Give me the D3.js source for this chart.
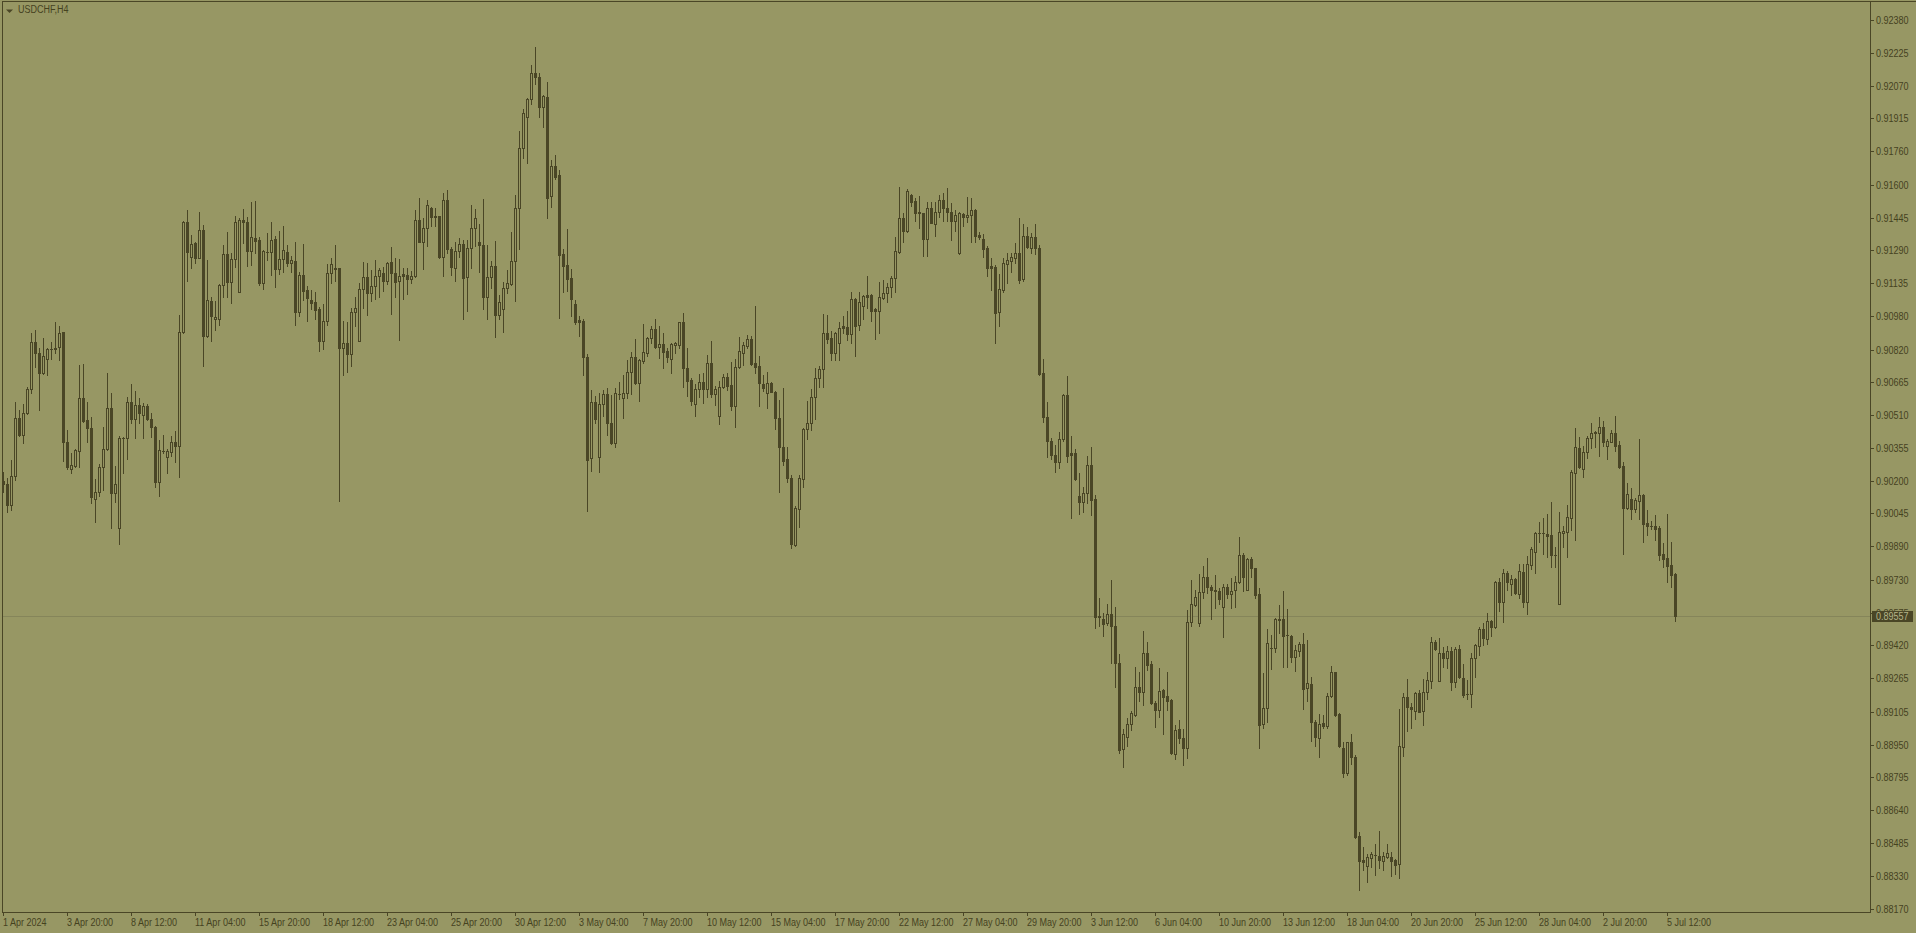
<!DOCTYPE html>
<html>
<head>
<meta charset="utf-8">
<script src="https://cdn.jsdelivr.net/npm/d3@7/dist/d3.min.js"></script>
<style>
  html, body { margin: 0; padding: 0; background: #979764; overflow: hidden; }
  #chart text { font-family: "Liberation Sans", Arial, sans-serif; font-size: 11px; fill: #45421f; }
</style>
</head>
<body>
<div id="chart"></div>
<script>
// USDCHF H4, 1 Apr 04:00 -> 5 Jul 20:00 (419 bars)
const symbol = 'USDCHF,H4';
const lastPrice = 0.89557;

const opens = [
.90200,.90186,.90086,.90224,.90494,.90418,.90521,.90633,.90854,.90802,
.90711,.90774,.90821,.90824,.90834,.90902,.90384,.90257,.90270,.90341,
.90589,.90486,.90451,.90111,.90144,.90262,.90348,.90542,.90139,.89974,
.90400,.90400,.90570,.90490,.90560,.90510,.90554,.90490,.90452,.90195,
.90341,.90313,.90337,.90384,.90365,.90902,.91426,.91260,.91323,.91255,
.91386,.90886,.91050,.90963,.90965,.91126,.91271,.91142,.91247,.91091,
.91434,.91423,.91288,.91347,.91339,.91137,.91284,.91284,.91344,.91202,
.91247,.91281,.91232,.91240,.90997,.91173,.91102,.91055,.91044,.91012,
.90862,.90957,.91181,.91205,.91205,.90826,.90850,.90798,.90997,.90862,
.91105,.91165,.91090,.91123,.91170,.91181,.91146,.91233,.91184,.91146,
.91176,.91173,.91154,.91169,.91434,.91331,.91394,.91489,.91453,.91453,
.91260,.91528,.91295,.91205,.91287,.91318,.91165,.91300,.91394,.91328,
.91315,.91071,.91165,.91216,.90984,.91011,.91110,.91129,.91240,.91489,
.91773,.91923,.92005,.92128,.92109,.91970,.92015,.91549,.91690,.91647,
.91273,.91221,.91161,.91035,.90961,.90956,.90787,.90306,.90571,.90310,
.90561,.90610,.90471,.90380,.90610,.90589,.90613,.90713,.90784,.90664,
.90768,.90803,.90874,.90916,.90834,.90845,.90814,.90774,.90842,.90842,
.90949,.90732,.90676,.90561,.90632,.90665,.90632,.90755,.90610,.90507,
.90645,.90689,.90653,.90555,.90736,.90803,.90839,.90870,.90758,.90743,
.90656,.90613,.90660,.90618,.90498,.90358,.90301,.90211,.89895,.90064,
.90206,.90443,.90471,.90597,.90684,.90728,.90897,.90873,.90805,.90853,
.90932,.90929,.90892,.91060,.90937,.91028,.91079,.91079,.91011,.91003,
.91066,.91086,.91118,.91157,.91284,.91442,.91383,.91552,.91524,.91472,
.91465,.91345,.91489,.91415,.91473,.91528,.91489,.91470,.91430,.91276,
.91462,.91446,.91457,.91481,.91363,.91344,.91303,.91216,.91210,.91000,
.91102,.91224,.91241,.91252,.91276,.91155,.91360,.91301,.91354,.91301,
.90710,.90500,.90389,.90323,.90286,.90398,.90606,.90330,.90332,.90127,
.90099,.90140,.90273,.90113,.89555,.89546,.89525,.89570,.89511,.89338,
.88928,.88985,.89048,.89092,.89222,.89199,.89383,.89333,.89146,.89112,
.89208,.89178,.89160,.88905,.89024,.88980,.88936,.89532,.89611,.89528,
.89671,.89742,.89695,.89682,.89678,.89600,.89695,.89663,.89682,.89722,
.89848,.89682,.89829,.89785,.89662,.89048,.89125,.89406,.89406,.89543,
.89543,.89469,.89465,.89367,.89395,.89427,.89217,.89236,.89059,.88980,
.89051,.89040,.89182,.89293,.89094,.88932,.88817,.88961,.88890,.88519,
.88403,.88377,.88415,.88427,.88422,.88401,.88419,.88416,.88403,.88383,
.88940,.89174,.89126,.89110,.89193,.89110,.89197,.89253,.89434,.89252,
.89382,.89358,.89393,.89248,.89402,.89263,.89188,.89188,.89358,.89417,
.89495,.89448,.89535,.89505,.89721,.89624,.89761,.89709,.89734,.89663,
.89769,.89627,.89801,.89864,.89951,.89951,.89946,.89943,.89848,.89616,
.89954,.89958,.90025,.90235,.90353,.90253,.90334,.90400,.90429,.90424,
.90452,.90364,.90384,.90424,.90369,.90269,.90072,.90111,.90064,.90105,
.90132,.89998,.89987,.89985,.89974,.89853,.89832,.89801,.89758
];

const highs = [
.90241,.90210,.90296,.90572,.90533,.90562,.90641,.90897,.90913,.90826,
.90873,.90826,.90854,.90950,.90932,.90905,.90439,.90333,.90348,.90747,
.90752,.90570,.90502,.90206,.90278,.90452,.90711,.90613,.90269,.90411,
.90408,.90594,.90655,.90624,.90589,.90568,.90562,.90521,.90458,.90392,
.90416,.90348,.90411,.90435,.90984,.91429,.91481,.91363,.91331,.91470,
.91410,.91244,.91070,.91050,.91131,.91315,.91378,.91276,.91453,.91445,
.91486,.91446,.91517,.91524,.91355,.91292,.91374,.91423,.91358,.91382,
.91405,.91315,.91263,.91331,.91186,.91318,.91121,.91102,.91094,.91023,
.91036,.91224,.91252,.91315,.91206,.90956,.90949,.91016,.91071,.91134,
.91233,.91228,.91197,.91244,.91208,.91210,.91236,.91307,.91252,.91247,
.91205,.91205,.91194,.91481,.91536,.91442,.91528,.91494,.91489,.91455,
.91560,.91576,.91307,.91331,.91347,.91339,.91339,.91505,.91484,.91415,
.91533,.91315,.91241,.91334,.91079,.91139,.91197,.91379,.91552,.91855,
.91959,.92010,.92168,.92251,.92128,.92026,.92086,.91718,.91742,.91671,
.91297,.91391,.91202,.91055,.90979,.90964,.90800,.90629,.90601,.90613,
.90629,.90637,.90605,.90637,.90669,.90700,.90771,.90807,.90871,.90774,
.90942,.90882,.90934,.90965,.90932,.90897,.90829,.90850,.90858,.90952,
.90992,.90826,.90684,.90657,.90705,.90708,.90795,.90861,.90648,.90673,
.90705,.90708,.90763,.90774,.90881,.90858,.90889,.90885,.91027,.90790,
.90700,.90713,.90668,.90626,.90582,.90637,.90358,.90227,.90080,.90227,
.90451,.90577,.90634,.90732,.90743,.90989,.90984,.90910,.90905,.90949,
.90979,.91003,.91091,.91063,.91091,.91079,.91169,.91082,.91016,.91142,
.91150,.91137,.91169,.91355,.91591,.91468,.91580,.91557,.91536,.91547,
.91468,.91520,.91520,.91517,.91552,.91560,.91584,.91513,.91481,.91470,
.91465,.91541,.91536,.91484,.91375,.91366,.91311,.91252,.91221,.91178,
.91252,.91276,.91279,.91326,.91444,.91413,.91401,.91372,.91413,.91315,
.90776,.90572,.90403,.90368,.90430,.90608,.90695,.90410,.90350,.90238,
.90170,.90318,.90359,.90131,.89644,.89573,.89614,.89730,.89600,.89379,
.89026,.89074,.89110,.89317,.89293,.89490,.89436,.89347,.89155,.89311,
.89213,.89293,.89164,.89044,.89067,.89024,.89588,.89730,.89682,.89756,
.89796,.89832,.89706,.89753,.89690,.89709,.89709,.89738,.89749,.89932,
.89856,.89832,.89837,.89788,.89690,.89288,.89498,.89469,.89548,.89611,
.89678,.89591,.89469,.89422,.89438,.89477,.89446,.89269,.89067,.89094,
.89090,.89193,.89322,.89296,.89098,.88961,.88964,.89000,.88901,.88534,
.88467,.88432,.88443,.88478,.88541,.88440,.88479,.88443,.88406,.89117,
.89193,.89260,.89145,.89197,.89208,.89260,.89292,.89458,.89445,.89453,
.89410,.89417,.89413,.89413,.89421,.89331,.89256,.89382,.89426,.89508,
.89527,.89571,.89540,.89724,.89740,.89782,.89774,.89753,.89741,.89805,
.89805,.89843,.89887,.89958,.90006,.90025,.90042,.90097,.89887,.90050,
.89985,.90085,.90250,.90448,.90405,.90364,.90411,.90471,.90435,.90500,
.90482,.90397,.90440,.90506,.90388,.90290,.90187,.90167,.90119,.90397,
.90135,.90061,.90009,.90037,.89985,.89906,.90042,.89911,.89761
];

const lows = [
.90146,.90052,.90060,.90205,.90410,.90379,.90514,.90616,.90739,.90533,
.90704,.90700,.90774,.90802,.90770,.90293,.90257,.90237,.90265,.90265,
.90478,.90384,.90092,.90005,.90128,.90155,.90344,.89977,.90100,.89898,
.90237,.90300,.90474,.90400,.90474,.90400,.90486,.90408,.90171,.90128,
.90332,.90237,.90316,.90290,.90219,.90900,.91145,.91208,.91232,.91252,
.90744,.90881,.90862,.90913,.90937,.91070,.91070,.91039,.91213,.91091,
.91323,.91217,.91220,.91279,.91126,.91107,.91244,.91173,.91118,.91178,
.91189,.91217,.91189,.90937,.90979,.91055,.90956,.91012,.90963,.90815,
.90823,.90937,.91134,.91146,.90105,.90700,.90716,.90744,.90933,.90860,
.91019,.90984,.91052,.91060,.91071,.91099,.91131,.90989,.91071,.90866,
.91060,.91083,.91137,.91165,.91328,.91202,.91312,.91407,.91407,.91255,
.91169,.91276,.91173,.91146,.91260,.90963,.91004,.91205,.91311,.91189,
.91012,.90965,.91113,.90882,.90965,.90905,.91087,.91126,.91050,.91297,
.91729,.91705,.91981,.92076,.91923,.91876,.91445,.91497,.91626,.90971,
.91095,.91099,.90979,.90940,.90886,.90700,.90056,.90247,.90471,.90242,
.90506,.90416,.90373,.90361,.90585,.90498,.90589,.90609,.90656,.90579,
.90759,.90790,.90850,.90830,.90780,.90732,.90763,.90711,.90803,.90826,
.90645,.90601,.90558,.90507,.90597,.90566,.90594,.90594,.90558,.90468,
.90637,.90629,.90534,.90455,.90732,.90747,.90826,.90747,.90708,.90555,
.90626,.90545,.90618,.90443,.90148,.90274,.90195,.89879,.89892,.89982,
.90168,.90395,.90440,.90490,.90642,.90642,.90850,.90771,.90771,.90770,
.90897,.90866,.90853,.90791,.90913,.90965,.91019,.90957,.90870,.90900,
.91060,.91047,.91071,.91094,.91279,.91331,.91378,.91500,.91429,.91397,
.91265,.91265,.91418,.91360,.91449,.91429,.91430,.91339,.91383,.91274,
.91407,.91423,.91331,.91328,.91342,.91260,.91169,.91102,.90853,.90933,
.91094,.91134,.91189,.91228,.91134,.91145,.91301,.91280,.91274,.90701,
.90478,.90314,.90304,.90243,.90259,.90389,.90286,.90024,.90202,.90042,
.90051,.90095,.90038,.89504,.89513,.89463,.89516,.89334,.89222,.88910,
.88843,.88943,.89017,.89083,.89156,.89137,.89302,.89142,.89035,.89080,
.89000,.89112,.88907,.88884,.88956,.88854,.88885,.89513,.89608,.89513,
.89646,.89667,.89543,.89599,.89616,.89458,.89643,.89595,.89603,.89714,
.89679,.89682,.89745,.89646,.88933,.89027,.89059,.89307,.89390,.89480,
.89319,.89315,.89340,.89300,.89371,.89117,.89158,.88969,.88945,.88890,
.89030,.89027,.89177,.89083,.88938,.88798,.88806,.88858,.88509,.88261,
.88356,.88301,.88372,.88332,.88367,.88356,.88415,.88328,.88337,.88320,
.88897,.89016,.89030,.89069,.89103,.89043,.89166,.89219,.89398,.89250,
.89319,.89311,.89208,.89221,.89265,.89174,.89166,.89129,.89271,.89374,
.89421,.89424,.89465,.89500,.89584,.89529,.89682,.89659,.89663,.89646,
.89603,.89569,.89782,.89764,.89911,.89853,.89840,.89793,.89793,.89614,
.89887,.89840,.89966,.89919,.90261,.90219,.90309,.90353,.90361,.90318,
.90365,.90301,.90381,.90340,.90261,.89853,.90066,.90018,.90050,.90018,
.89911,.89943,.89971,.89919,.89824,.89790,.89722,.89698,.89537
];

const closes = [
.90186,.90086,.90224,.90494,.90415,.90521,.90633,.90854,.90802,.90711,
.90791,.90821,.90823,.90826,.90897,.90384,.90265,.90276,.90344,.90589,
.90482,.90450,.90123,.90144,.90262,.90348,.90542,.90143,.90186,.90400,
.90403,.90570,.90490,.90560,.90521,.90554,.90490,.90452,.90195,.90344,
.90340,.90340,.90384,.90365,.90902,.91426,.91281,.91318,.91255,.91386,
.90886,.91055,.90981,.90973,.91126,.91271,.91142,.91247,.91423,.91434,
.91426,.91288,.91352,.91336,.91134,.91287,.91282,.91339,.91202,.91247,
.91292,.91232,.91244,.91000,.91173,.91099,.91066,.91042,.91008,.90862,
.90957,.91181,.91224,.91204,.90826,.90850,.90798,.90997,.91016,.91105,
.91165,.91090,.91123,.91170,.91197,.91146,.91228,.91184,.91142,.91170,
.91169,.91154,.91170,.91434,.91331,.91394,.91505,.91446,.91446,.91260,
.91528,.91295,.91213,.91287,.91318,.91161,.91300,.91394,.91442,.91315,
.91071,.91165,.91216,.90984,.91044,.91110,.91134,.91240,.91489,.91773,
.91939,.92005,.92128,.92109,.91970,.92021,.91540,.91690,.91639,.91268,
.91218,.91155,.91058,.90953,.90953,.90787,.90298,.90574,.90490,.90561,
.90610,.90471,.90377,.90613,.90609,.90613,.90713,.90784,.90664,.90771,
.90807,.90877,.90916,.90834,.90845,.90810,.90784,.90845,.90850,.90949,
.90732,.90673,.90578,.90634,.90665,.90632,.90755,.90610,.90632,.90645,
.90689,.90649,.90555,.90736,.90814,.90842,.90869,.90750,.90739,.90660,
.90640,.90660,.90621,.90498,.90358,.90294,.90214,.89898,.90069,.90211,
.90443,.90474,.90597,.90684,.90728,.90897,.90870,.90802,.90897,.90921,
.90924,.90892,.91058,.90933,.91044,.91074,.91071,.91004,.91003,.91067,
.91086,.91115,.91157,.91287,.91442,.91383,.91571,.91520,.91465,.91465,
.91345,.91489,.91421,.91470,.91528,.91489,.91470,.91430,.91457,.91465,
.91446,.91457,.91481,.91360,.91352,.91296,.91208,.91205,.90995,.91105,
.91232,.91244,.91257,.91276,.91150,.91360,.91306,.91354,.91301,.90706,
.90500,.90389,.90323,.90286,.90398,.90606,.90318,.90321,.90207,.90099,
.90140,.90273,.90109,.89552,.89561,.89520,.89570,.89511,.89334,.88925,
.89000,.89048,.89101,.89222,.89199,.89383,.89329,.89146,.89112,.89204,
.89174,.89155,.88910,.89021,.88980,.88936,.89532,.89614,.89648,.89671,
.89742,.89695,.89682,.89678,.89638,.89695,.89663,.89679,.89719,.89848,
.89745,.89829,.89785,.89659,.89043,.89125,.89430,.89405,.89543,.89542,
.89465,.89468,.89367,.89398,.89427,.89212,.89240,.89059,.88988,.89048,
.89040,.89182,.89293,.89091,.88941,.88814,.88964,.88890,.88514,.88400,
.88396,.88416,.88430,.88426,.88403,.88422,.88435,.88399,.88380,.88943,
.89174,.89126,.89117,.89193,.89106,.89200,.89256,.89434,.89401,.89382,
.89361,.89393,.89248,.89402,.89268,.89185,.89188,.89358,.89421,.89495,
.89456,.89536,.89505,.89721,.89626,.89761,.89722,.89733,.89666,.89772,
.89627,.89804,.89876,.89954,.89950,.89950,.89939,.89848,.89846,.89955,
.89962,.90026,.90239,.90358,.90266,.90334,.90403,.90424,.90424,.90452,
.90381,.90388,.90424,.90365,.90263,.90072,.90135,.90064,.90108,.90132,
.89995,.89987,.89986,.89971,.89848,.89829,.89796,.89753,.89557
];

const priceTicks = [
'0.92380','0.92225','0.92070','0.91915','0.91760','0.91600','0.91445',
'0.91290','0.91135','0.90980','0.90820','0.90665','0.90510','0.90355',
'0.90200','0.90045','0.89890','0.89730','0.89575','0.89420','0.89265',
'0.89105','0.88950','0.88795','0.88640','0.88485','0.88330','0.88170'
];

// one label every 16 bars starting at bar 0
const timeLabels = [
'1 Apr 2024','3 Apr 20:00','8 Apr 12:00','11 Apr 04:00','15 Apr 20:00',
'18 Apr 12:00','23 Apr 04:00','25 Apr 20:00','30 Apr 12:00','3 May 04:00',
'7 May 20:00','10 May 12:00','15 May 04:00','17 May 20:00','22 May 12:00',
'27 May 04:00','29 May 20:00','3 Jun 12:00','6 Jun 04:00','10 Jun 20:00',
'13 Jun 12:00','18 Jun 04:00','20 Jun 20:00','25 Jun 12:00','28 Jun 04:00',
'2 Jul 20:00','5 Jul 12:00'
];

(function drawChart() {
	const bg = '#979764';
	const ink = '#4a4626';

	const width = 1916;
	const height = 933;
	// plot frame
	const frameLeft = 2;
	const frameTop = 1;
	const axisX = 1870;
	const axisY = 912;

	const bars = opens.map((o, i) => ({ i, o, h: highs[i], l: lows[i], c: closes[i] }));

	const x = d3.scaleLinear().domain([0, bars.length - 1]).range([3, 3 + 4 * (bars.length - 1)]);
	const y = d3.scaleLinear().domain([0.88170, 0.92380]).range([909.3, 20.2]);

	const svg = d3.select('#chart').append('svg')
		.attr('width', width)
		.attr('height', height)
		.style('display', 'block')
		.attr('shape-rendering', 'crispEdges');

	// narrow terminal-style text: regular sans squeezed horizontally
	const label = (g, tx, ty, str) => g.append('text')
		.attr('transform', `translate(${tx},${ty}) scale(0.82,1)`)
		.text(str);

	svg.append('rect').attr('width', width).attr('height', height).attr('fill', bg);

	// current price line (behind the bars)
	const py = Math.round(y(lastPrice));
	svg.append('rect')
		.attr('x', frameLeft + 1).attr('y', py)
		.attr('width', axisX - frameLeft - 1).attr('height', 1)
		.attr('fill', '#85855a');

	const $bars = svg.append('g').attr('class', 'bars');

	// wicks
	$bars.selectAll('.wick')
		.data(bars)
		.enter()
		.append('rect')
		.attr('class', 'wick')
		.attr('x', d => Math.round(x(d.i)))
		.attr('y', d => Math.round(y(d.h)))
		.attr('width', 1)
		.attr('height', d => Math.round(y(d.l)) - Math.round(y(d.h)) + 1)
		.attr('fill', ink);

	// bodies
	const bodyTop = d => Math.round(y(Math.max(d.o, d.c)));
	const bodyBot = d => Math.round(y(Math.min(d.o, d.c)));

	$bars.selectAll('.bear')
		.data(bars.filter(d => d.c < d.o || bodyBot(d) - bodyTop(d) < 2))
		.enter()
		.append('rect')
		.attr('class', 'bear')
		.attr('x', d => Math.round(x(d.i)) - 1)
		.attr('y', d => bodyTop(d))
		.attr('width', 3)
		.attr('height', d => bodyBot(d) - bodyTop(d) + 1)
		.attr('fill', ink);

	$bars.selectAll('.bull')
		.data(bars.filter(d => d.c >= d.o && bodyBot(d) - bodyTop(d) >= 2))
		.enter()
		.append('rect')
		.attr('class', 'bull')
		.attr('x', d => Math.round(x(d.i)) - 0.5)
		.attr('y', d => bodyTop(d) + 0.5)
		.attr('width', 2)
		.attr('height', d => bodyBot(d) - bodyTop(d))
		.attr('fill', bg)
		.attr('stroke', ink)
		.attr('stroke-width', 1)
		.attr('shape-rendering', 'auto');

	// frame
	const frame = svg.append('g').attr('fill', ink);
	frame.append('rect').attr('x', frameLeft).attr('y', frameTop).attr('width', width - frameLeft).attr('height', 1);
	frame.append('rect').attr('x', frameLeft).attr('y', frameTop).attr('width', 1).attr('height', axisY - frameTop + 1);
	frame.append('rect').attr('x', axisX).attr('y', frameTop).attr('width', 1).attr('height', axisY - frameTop + 1);
	frame.append('rect').attr('x', frameLeft).attr('y', axisY).attr('width', axisX - frameLeft + 1).attr('height', 1);

	// price axis
	const $yAxis = svg.append('g').attr('class', 'y-axis');
	priceTicks.forEach(t => {
		const ty = Math.round(y(+t));
		$yAxis.append('rect').attr('x', axisX + 1).attr('y', ty).attr('width', 3).attr('height', 1).attr('fill', ink);
		label($yAxis, axisX + 6, ty + 4, t);
	});

	// last price tag
	svg.append('rect')
		.attr('x', axisX + 2).attr('y', py - 5)
		.attr('width', 41).attr('height', 11)
		.attr('fill', ink);
	label(svg, axisX + 6, py + 4, d3.format('.5f')(lastPrice)).style('fill', '#b4b48a');

	// time axis
	const $xAxis = svg.append('g').attr('class', 'x-axis');
	timeLabels.forEach((t, k) => {
		const tx = Math.round(x(k * 16));
		$xAxis.append('rect').attr('x', tx).attr('y', axisY + 1).attr('width', 1).attr('height', 3).attr('fill', ink);
		label($xAxis, tx, axisY + 14, t);
	});

	// title
	svg.append('path').attr('d', 'M6,9.5 L13,9.5 L9.5,13 Z').attr('fill', ink).attr('shape-rendering', 'auto');
	label(svg, 18, 13, symbol);
})();
</script>
</body>
</html>
